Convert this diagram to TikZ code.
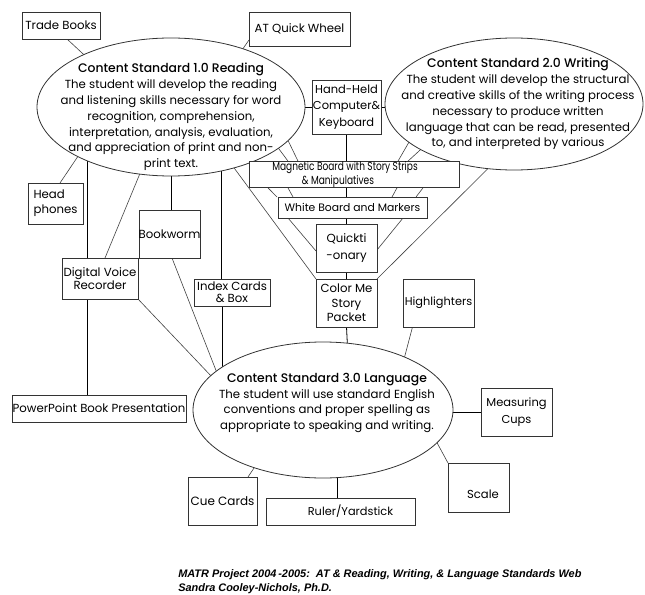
\documentclass[tikz,border=0pt]{standalone}
\usepackage{fontspec}
\setmainfont{Poppins}
\newfontfamily\titlefont{Poppins Medium}
\newfontfamily\footfont{Liberation Sans}
\usetikzlibrary{shapes.geometric,calc}
\pgfdeclarelayer{bg}
\pgfsetlayers{bg,main}
\newcommand\ovr[1]{\makebox[0pt]{#1}}
\tikzset{
  bx/.style 2 args={minimum width=#1*0.75pt, minimum height=#2*0.75pt},
  box/.style={draw=black!80, line width=0.6pt, fill=white, inner sep=0.5pt, outer sep=0pt,
    align=center, font=\fontsize{8.8}{12}\selectfont},
  ell/.style 2 args={ellipse, draw=black!80, line width=0.6pt, fill=white, inner sep=0pt,
    outer sep=0pt, minimum width=#1*0.75pt, minimum height=#2*0.75pt},
  etext/.style={align=center, inner sep=0pt, font=\fontsize{8.8}{11.9}\selectfont},
  link/.style={line width=0.45pt, black!75},
  vlink/.style={line width=0.6pt, black},
  foot/.style={anchor=base west, inner sep=0pt, font=\footfont\bfseries\itshape\fontsize{8.2}{9}\selectfont}
}
\begin{document}
\begin{tikzpicture}[x=0.75pt,y=-0.75pt]
\useasboundingbox (0,0) rectangle (645,595);

% ellipses
\node[ell={268}{138}] (e1) at (171,107) {};
\node[ell={258}{132}] (e2) at (514,104) {};
\node[ell={260}{136}] (e3) at (323,410) {};

\node[etext] (t1) at (171,117) {{\titlefont\fontsize{9.3}{11.9}\selectfont Content Standard 1.0 Reading}\\
The student will develop the reading\\
and listening skills necessary for word\\
recognition, comprehension,\\
interpretation, analysis, evaluation,\\
and appreciation of print and non-\\
print text.};
\node[etext] (t2) at (518,104) {{\titlefont\fontsize{9.3}{11.9}\selectfont Content Standard 2.0 Writing}\\
The student will develop the structural\\
and creative skills of the writing process\\
necessary to produce written\\
language that can be read, presented\\
to, and interpreted by various};
\node[etext] (t3) at (327,403) {{\titlefont\fontsize{9.3}{11.9}\selectfont Content Standard 3.0 Language}\\
The student will use standard English\\
conventions and proper spelling as\\
appropriate to speaking and writing.};

% boxes
\node[box, bx={78}{27}] (trade) at (61,25.5) {Trade Books};
\node[box, bx={101}{34}] (atq) at (299.5,29) {AT Quick Wheel};
\node[box, bx={69}{54}, font=\fontsize{8.6}{12.4}\selectfont] (hh) at (346.5,107) {Hand-Held\\\ovr{Computer\&}\\Keyboard};
\node[box, bx={210}{23}, font=\fontsize{8.8}{7.5}\selectfont] (mag) at (354,174.5) {\ovr{\scalebox{0.77}[1]{Magnetic Board with Story Strips}\hspace*{13.5pt}}\\\ovr{\scalebox{0.77}[1]{\& Manipulatives}\hspace*{24pt}}};
\node[box, bx={149}{21}, font=\fontsize{8.1}{12}\selectfont] (white) at (352.5,207.5) {White Board and Markers};
\node[box, bx={61}{48}, font=\fontsize{8.8}{12.6}\selectfont] (quick) at (346.5,248) {Quickti\\-onary};
\node[box, bx={61}{48}, font=\fontsize{8.8}{11}\selectfont] (color) at (346.5,303) {Color Me\\Story\\Packet};
\node[box, bx={71}{48}, font=\fontsize{8.5}{12}\selectfont] (high) at (438.5,303) {\ovr{Highlighters}};
\node[box, bx={55}{41}, align=left, font=\fontsize{8.8}{11.4}\selectfont] (head) at (55.5,203.5) {Head\\phones};
\node[box, bx={61}{48}] (book) at (169.5,234) {\ovr{Bookworm}};
\node[box, bx={76}{41}, font=\fontsize{8.8}{8}\selectfont] (dvr) at (100,278.5) {Digital Voice\\Recorder};
\node[box, bx={76}{27}, font=\fontsize{8.8}{9}\selectfont] (index) at (232,292.5) {Index Cards\\\& Box};
\node[box, bx={174}{27}] (ppt) at (99,408.5) {\ovr{PowerPoint Book Presentation}};
\node[box, bx={71}{48}, font=\fontsize{8.6}{12.6}\selectfont] (meas) at (516.5,412) {Measuring\\Cups};
\node[box, bx={61}{49}] (scale) at (478.5,487.5) {};
\node[inner sep=0pt, font=\fontsize{8.7}{12}\selectfont] (scaletxt) at (483,494) {Scale};
\node[box, bx={69}{48}, font=\fontsize{9}{12}\selectfont] (cue) at (222.5,501) {Cue Cards};
\node[box, bx={149}{27}, font=\fontsize{8.5}{12}\selectfont] (ruler) at (340.5,511.5) {\hspace*{15pt}Ruler/Yardstick};

% footer
\node[foot] (f1) at (178,577) {MATR Project 2004\,-2005:\ \ AT \& Reading, Writing, \& Language Standards Web};
\node[foot] (f2) at (178,591) {Sandra Cooley-Nichols, Ph.D.};

\begin{pgfonlayer}{bg}
% Reading ellipse
\draw[link] ($(trade.south)+(6,0)$) -- (e1.149.9);
\draw[link] ($(atq.west)+(0,11)$) -- (e1.39.5);
\draw[vlink] (e1.east) -- (hh.west);
\draw[vlink] (hh.east) -- (hh.east -| e2.west);
\draw[link] ($(head.north)+(4.5,0)$) -- (e1.-152.5);
\draw[vlink] (e1.-147) -- (e1.-147 |- dvr.north);
\draw[vlink] (dvr.south -| e1.-147) -- (ppt.north -| e1.-147);
\draw[link] ($(dvr.north)+(5,0)$) -- (e1.-115.5);
\draw[vlink] (e1.south) -- (e1.south |- book.north);
\draw[vlink] (e1.-52) -- (e1.-52 |- index.north);
\draw[vlink] (index.south -| e3.157.5) -- (e3.157.5);
\draw[link] (e1.-44.5) -- (color.north west);
\draw[link] (e1.-21.2) -- ($(mag.north west)+(39,0)$);
\draw[link] (e1.-16.2) -- ($(mag.north west)+(49,0)$);
\draw[link] ($(mag.south west)+(19,0)$) -- ($(white.north west)+(-1,0)$);
\draw[link] ($(mag.south west)+(39,0)$) -- ($(white.north west)+(15,0)$);
\draw[link] ($(white.south west)+(10,0)$) -- ($(quick.west)+(0,3)$);
% Writing ellipse
\draw[link] (e2.-160.5) -- ($(mag.north east)+(-61,0)$);
\draw[link] (e2.-154.3) -- ($(mag.north east)+(-51,0)$);
\draw[link] ($(mag.south east)+(-62,0)$) -- ($(white.north east)+(-35,0)$);
\draw[link] ($(mag.south east)+(-36,0)$) -- ($(white.north east)+(-11,0)$);
\draw[link] ($(white.south east)+(-24,0)$) -- ($(quick.east)+(0,2)$);
\draw[link] (e2.-112.7) -- (color.north east);
% vertical chain
\draw[vlink] (hh.south) -- (hh.south |- mag.north);
\draw[vlink] (mag.south -| hh.south) -- (white.north -| hh.south);
\draw[vlink] (white.south -| hh.south) -- (quick.north);
\draw[vlink] (quick.south) -- (color.north);
\draw[vlink] (color.south) -- (e3.70.6);
% Language ellipse
\draw[link] ($(high.south)+(-26,0)$) -- (e3.33.8);
\draw[vlink] (meas.west) -- (meas.west -| e3.east);
\draw[link] (e3.-16) -- (scale.north west);
\draw[vlink] (e3.-78.3) -- (e3.-78.3 |- ruler.north);
\draw[link] (e3.-140.8) -- ($(cue.north)+(25.5,0)$);
\draw[link] (dvr.south east) -- (e3.163.4);
\draw[link] ($(book.south)+(2.5,0)$) -- (e3.160.7);
\end{pgfonlayer}
\end{tikzpicture}
\end{document}
